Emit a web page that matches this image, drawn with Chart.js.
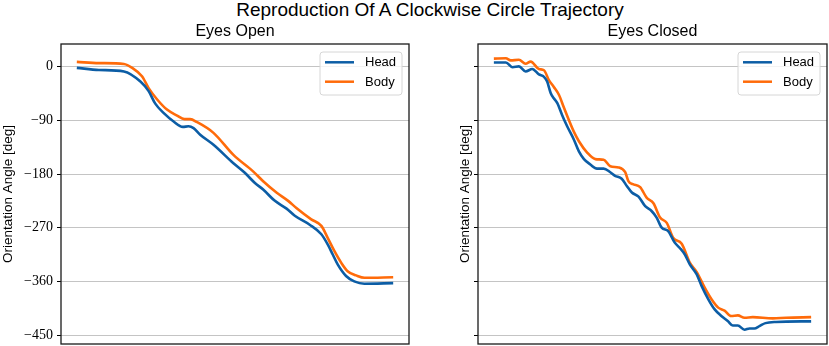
<!DOCTYPE html>
<html>
<head>
<meta charset="utf-8">
<script src="https://cdn.jsdelivr.net/npm/chart.js@4.4.0/dist/chart.umd.min.js"></script>
<style>
    body { margin: 0; background: #fff; }
    #wrap { position: relative; width: 829px; height: 346px; }
    #suptitle {
        position: absolute; left: 430px; top: 0; transform: translateX(-50%);
        font: 19px "Liberation Sans", Arial, sans-serif; line-height: 19px;
        white-space: nowrap; color: #000;
    }
    .panel { position: absolute; top: 0; height: 346px; }
</style>
</head>
<body>
<div id="wrap">
    <div id="suptitle">Reproduction Of A Clockwise Circle Trajectory</div>
    <div class="panel" style="left:0;width:414px"><canvas id="openChart"></canvas></div>
    <div class="panel" style="left:414px;width:415px"><canvas id="closedChart"></canvas></div>
</div>
<script>
const yTicks = [0, -90, -180, -270, -360, -450];
const seriesLabels = ['Head', 'Body'];

// Eyes open
const openHeadT = [0, 7, 14.9, 20.1, 22.7, 24.8, 27.5, 30.6, 33.5, 35.3, 36.9, 39, 43.2, 49.5, 53.1, 56.3, 58.9, 62.6, 66.3, 68.9, 73.6, 77.3, 79.3, 80.9, 82.5, 85.1, 87.7, 90.9, 100];
const openHeadY = [-2, -5.5, -8, -25, -41, -62, -78, -92, -101, -100, -103, -114, -131, -162, -178, -195, -206, -225, -238, -250, -265, -281, -298, -315, -332, -351, -360, -364, -363];
const openBodyT = [0, 7, 14.9, 17.5, 20.6, 22.7, 25.4, 28.5, 31.7, 34, 35.8, 38, 43.2, 49.5, 55.8, 58.9, 63.1, 66.8, 69.4, 74.1, 77.3, 79.3, 81.4, 83.6, 85.6, 88.3, 90.9, 100];
const openBodyY = [8, 6, 4.5, -2, -16, -36, -55, -72, -82, -88, -88, -93, -111, -148, -176, -192, -211, -225, -237, -256, -267, -287, -309, -329, -343, -350, -354, -353];

// Eyes closed
const closedHeadT = [0, 3.8, 5.9, 7.9, 10, 12.1, 14.2, 15.8, 16.8, 17.9, 18.9, 20, 21.5, 23.1, 25.2, 26.8, 28.4, 30.4, 32.5, 34.6, 36.7, 38.2, 40.3, 41.9, 43.5, 45.6, 47.7, 49.7, 51.3, 52.9, 55, 57, 58.6, 60.2, 61.8, 63.9, 65.5, 67.6, 69.6, 71.7, 73.8, 75.3, 76.9, 79, 80.6, 82.1, 83.7, 85.6, 88.9, 100];
const closedHeadY = [7, 7, -1, 0.5, -8, -4, -13, -17, -25, -44, -53, -61, -81, -100, -122, -142, -155, -164, -171, -171, -177, -183, -188, -200, -211, -218, -234, -242, -253, -270, -276, -295, -304, -315, -332, -348, -368, -390, -407, -418, -427, -434, -434, -441, -439, -439, -435, -430, -428, -427];
const closedBodyT = [0, 3.8, 5.3, 7.9, 10, 11.6, 14.2, 15.8, 17.3, 18.9, 20.5, 22.1, 23.6, 25.2, 26.8, 29.4, 32, 34.6, 36.7, 39.3, 41.4, 42.4, 43.8, 46.1, 48.2, 50.3, 52.4, 54.5, 56.5, 59.2, 61.8, 63.9, 66.5, 68.6, 70.7, 72.7, 74.8, 76.9, 79, 81.6, 87.9, 92.1, 100];
const closedBodyY = [13.5, 14, 10.5, 11.5, 5, 8.5, -4, -6, -22, -34, -47, -69, -89, -109, -125, -144, -155, -156, -167, -169, -177, -192, -197, -202, -220, -229, -253, -262, -287, -297, -329, -344, -371, -390, -404, -409, -418, -417, -421, -420, -422, -421, -420];

const headColor = '#0C5DA5';
const bodyColor = '#FF6B0A';
const sansFont = '"Liberation Sans", Arial, sans-serif';

function toPoints(ts, ys) {
    return ts.map((t, i) => ({ x: t, y: ys[i] }));
}

// frame around the axes and a matplotlib-like legend in the upper right
const framePlugin = {
    id: 'frame',
    afterDraw(chart) {
        const { ctx, chartArea: a } = chart;
        ctx.save();
        ctx.strokeStyle = '#1a1a1a';
        ctx.lineWidth = 1.3;
        ctx.strokeRect(a.left, a.top, a.right - a.left, a.bottom - a.top);

        const w = 82, h = 43;
        const x0 = a.right - 7 - w, y0 = a.top + 8;
        ctx.beginPath();
        ctx.roundRect(x0, y0, w, h, 3);
        ctx.fillStyle = 'rgba(255,255,255,0.8)';
        ctx.fill();
        ctx.strokeStyle = '#d6d6d6';
        ctx.lineWidth = 1;
        ctx.stroke();

        ctx.font = '13px ' + sansFont;
        ctx.textBaseline = 'middle';
        chart.data.datasets.forEach((ds, i) => {
            const y = y0 + 10.3 + i * 19.4;
            ctx.beginPath();
            ctx.moveTo(x0 + 5, y);
            ctx.lineTo(x0 + 34, y);
            ctx.strokeStyle = ds.borderColor;
            ctx.lineWidth = 2.5;
            ctx.stroke();
            ctx.fillStyle = '#000';
            ctx.fillText(ds.label, x0 + 45, y + 0.5);
        });
        ctx.restore();
    }
};

function makeChart(id, title, head, body, opts) {
    const ctx = document.getElementById(id);
    return new Chart(ctx, {
        type: 'line',
        data: {
            datasets: [
                { label: seriesLabels[0], data: head, borderColor: headColor, backgroundColor: headColor },
                { label: seriesLabels[1], data: body, borderColor: bodyColor, backgroundColor: bodyColor }
            ]
        },
        options: {
            responsive: true,
            maintainAspectRatio: false,
            animation: false,
            events: [],
            layout: { padding: { top: 0, right: opts.padRight, bottom: 2, left: 0 } },
            elements: {
                line: { borderWidth: 2.6, tension: 0.3, cubicInterpolationMode: 'monotone' },
                point: { radius: 0 }
            },
            plugins: {
                legend: { display: false },
                tooltip: { enabled: false },
                title: {
                    display: true,
                    text: title,
                    fullSize: false,
                    color: '#000',
                    font: { family: sansFont, size: 16, weight: 'normal' },
                    padding: { top: 22.2, bottom: 2.6 }
                }
            },
            scales: {
                x: { type: 'linear', min: -5, max: 105, display: false },
                y: {
                    min: -465,
                    max: 38,
                    afterBuildTicks: scale => {
                        scale.ticks = yTicks.map(v => ({ value: v }));
                    },
                    afterFit: scale => {
                        scale.width = opts.axisWidth;
                        scale.paddingTop = 0;
                        scale.paddingBottom = 0;
                    },
                    grid: { color: '#c4c4c4', lineWidth: 1, tickColor: '#000', tickLength: 4 },
                    border: { display: false },
                    ticks: {
                        color: '#000',
                        padding: 4,
                        font: { family: '"Liberation Serif", "Times New Roman", serif', size: 14 },
                        callback: v => opts.showLabels ? (v < 0 ? '\u2212' + Math.abs(v) : String(v)) : ''
                    },
                    title: {
                        display: true,
                        text: 'Orientation Angle [deg]',
                        color: '#000',
                        font: { family: sansFont, size: 13.5 },
                        padding: { top: opts.titlePad, bottom: 0 }
                    }
                }
            }
        },
        plugins: [framePlugin]
    });
}

makeChart('openChart', 'Eyes Open',
    toPoints(openHeadT, openHeadY), toPoints(openBodyT, openBodyY),
    { padRight: 5, axisWidth: 61, showLabels: true, titlePad: 0 });
makeChart('closedChart', 'Eyes Closed',
    toPoints(closedHeadT, closedHeadY), toPoints(closedBodyT, closedBodyY),
    { padRight: 2, axisWidth: 64, showLabels: false, titlePad: 43 });
</script>
</body>
</html>
